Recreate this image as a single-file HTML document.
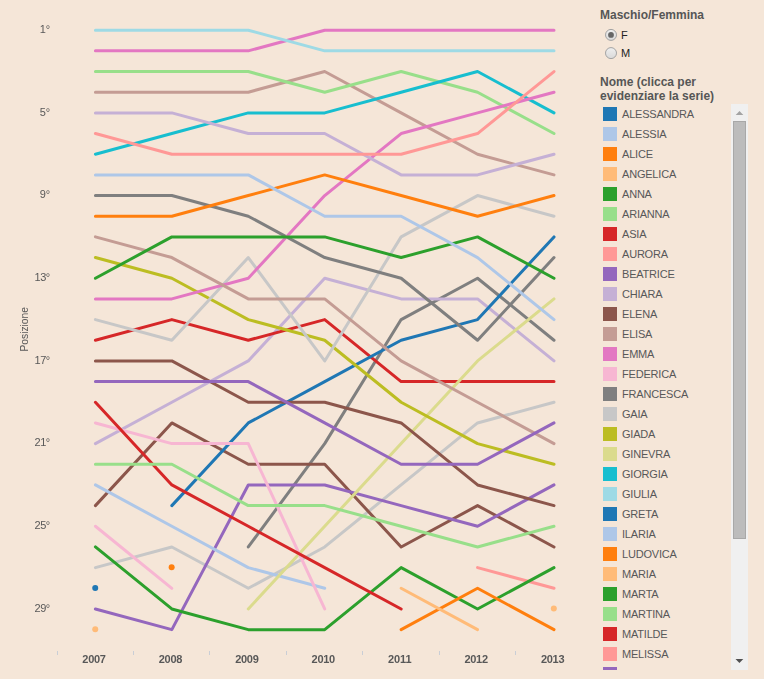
<!DOCTYPE html>
<html><head><meta charset="utf-8"><title>Nomi</title>
<style>
html,body{margin:0;padding:0;}
body{width:764px;height:679px;overflow:hidden;background:#f5e6d8;font-family:"Liberation Sans",sans-serif;position:relative;}
.h{position:absolute;left:600px;font-weight:bold;font-size:12px;line-height:14px;color:#565656;white-space:nowrap;}
.rl{position:absolute;left:621px;font-size:11px;line-height:12px;color:#222;}
#list{position:absolute;left:600px;top:104px;width:131px;height:566px;overflow:hidden;}
.it{position:absolute;left:0;height:20px;width:131px;}
.sw{position:absolute;left:3px;top:3px;width:14px;height:14px;}
.nm{position:absolute;left:22px;top:3px;font-size:11px;line-height:14px;color:#585858;white-space:nowrap;letter-spacing:-0.2px;}
#sb{position:absolute;left:731px;top:104px;width:17px;height:566px;background:#f0f0f0;}
#th{position:absolute;left:2px;top:17px;width:11px;height:416px;background:#bcbcbc;border:1px solid #a8a8a8;}
.ar{position:absolute;left:5px;width:0;height:0;border-left:3.5px solid transparent;border-right:3.5px solid transparent;}
</style></head><body>
<svg width="590" height="679" style="position:absolute;left:0;top:0;will-change:transform" font-family="Liberation Sans, sans-serif">
<g fill="none" stroke-width="3" stroke-linecap="round" stroke-linejoin="round">
<path d="M95.42,567.62L171.84,546.95L248.28,588.29L324.70,546.95L401.14,484.94L477.56,422.93L554.00,402.26" stroke="#c7c7c7"/>
<path d="M248.28,546.95L324.70,443.60L401.14,319.58L477.56,278.24L554.00,340.25" stroke="#7f7f7f"/>
<path d="M95.42,526.28L171.84,588.29" stroke="#f7b6d2"/>
<path d="M95.42,50.87L171.84,50.87L248.28,50.87L324.70,30.20L401.14,30.20L477.56,30.20L554.00,30.20" stroke="#e377c2"/>
<path d="M95.42,92.21L171.84,92.21L248.28,92.21L324.70,71.54L401.14,112.88L477.56,154.22L554.00,174.89" stroke="#c49c94"/>
<path d="M95.42,505.61L171.84,422.93L248.28,464.27L324.70,464.27L401.14,546.95L477.56,505.61L554.00,546.95" stroke="#8c564b"/>
<path d="M95.42,443.60L171.84,402.26L248.28,360.92L324.70,278.24L401.14,298.91L477.56,298.91L554.00,360.92" stroke="#c5b0d5"/>
<path d="M95.42,608.96L171.84,629.63L248.28,484.94L324.70,484.94L401.14,505.61L477.56,526.28L554.00,484.94" stroke="#9467bd"/>
<path d="M477.56,567.62L554.00,588.29" stroke="#ff9896"/>
<path d="M95.42,340.25L171.84,319.58L248.28,340.25L324.70,319.58L401.14,381.59L477.56,381.59L554.00,381.59" stroke="#d62728"/>
<path d="M95.42,71.54L171.84,71.54L248.28,71.54L324.70,92.21L401.14,71.54L477.56,92.21L554.00,133.55" stroke="#98df8a"/>
<path d="M95.42,546.95L171.84,608.96L248.28,629.63L324.70,629.63L401.14,567.62L477.56,608.96L554.00,567.62" stroke="#2ca02c"/>
<circle cx="553.80" cy="608.56" r="3" fill="#ffbb78" stroke="none"/>
<circle cx="171.65" cy="567.22" r="3" fill="#ff7f0e" stroke="none"/>
<path d="M401.14,629.63L477.56,588.29L554.00,629.63" stroke="#ff7f0e"/>
<path d="M95.42,484.94L171.84,526.28L248.28,567.62L324.70,588.29" stroke="#aec7e8"/>
<path d="M171.84,505.61L248.28,422.93L324.70,381.59L401.14,340.25L477.56,319.58L554.00,236.90" stroke="#1f77b4"/>
<path d="M95.42,30.20L171.84,30.20L248.28,30.20L324.70,50.87L401.14,50.87L477.56,50.87L554.00,50.87" stroke="#9edae5"/>
<path d="M95.42,154.22L171.84,133.55L248.28,112.88L324.70,112.88L401.14,92.21L477.56,71.54L554.00,112.88" stroke="#17becf"/>
<path d="M248.28,608.96L324.70,526.28L401.14,443.60L477.56,360.92L554.00,298.91" stroke="#dbdb8d"/>
<path d="M95.42,257.57L171.84,278.24L248.28,319.58L324.70,340.25L401.14,402.26L477.56,443.60L554.00,464.27" stroke="#bcbd22"/>
<path d="M95.42,319.58L171.84,340.25L248.28,257.57L324.70,360.92L401.14,236.90L477.56,195.56L554.00,216.23" stroke="#c7c7c7"/>
<path d="M95.42,195.56L171.84,195.56L248.28,216.23L324.70,257.57L401.14,278.24L477.56,340.25L554.00,257.57" stroke="#7f7f7f"/>
<path d="M95.42,422.93L171.84,443.60L248.28,443.60L324.70,608.96" stroke="#f7b6d2"/>
<path d="M95.42,298.91L171.84,298.91L248.28,278.24L324.70,195.56L401.14,133.55L477.56,112.88L554.00,92.21" stroke="#e377c2"/>
<path d="M95.42,236.90L171.84,257.57L248.28,298.91L324.70,298.91L401.14,360.92L477.56,402.26L554.00,443.60" stroke="#c49c94"/>
<path d="M95.42,360.92L171.84,360.92L248.28,402.26L324.70,402.26L401.14,422.93L477.56,484.94L554.00,505.61" stroke="#8c564b"/>
<path d="M95.42,112.88L171.84,112.88L248.28,133.55L324.70,133.55L401.14,174.89L477.56,174.89L554.00,154.22" stroke="#c5b0d5"/>
<path d="M95.42,381.59L171.84,381.59L248.28,381.59L324.70,422.93L401.14,464.27L477.56,464.27L554.00,422.93" stroke="#9467bd"/>
<path d="M95.42,133.55L171.84,154.22L248.28,154.22L324.70,154.22L401.14,154.22L477.56,133.55L554.00,71.54" stroke="#ff9896"/>
<path d="M95.42,402.26L171.84,484.94L248.28,526.28L324.70,567.62L401.14,608.96" stroke="#d62728"/>
<path d="M95.42,464.27L171.84,464.27L248.28,505.61L324.70,505.61L401.14,526.28L477.56,546.95L554.00,526.28" stroke="#98df8a"/>
<path d="M95.42,278.24L171.84,236.90L248.28,236.90L324.70,236.90L401.14,257.57L477.56,236.90L554.00,278.24" stroke="#2ca02c"/>
<circle cx="95.22" cy="629.23" r="3" fill="#ffbb78" stroke="none"/>
<path d="M401.14,588.29L477.56,629.63" stroke="#ffbb78"/>
<path d="M95.42,216.23L171.84,216.23L248.28,195.56L324.70,174.89L401.14,195.56L477.56,216.23L554.00,195.56" stroke="#ff7f0e"/>
<path d="M95.42,174.89L171.84,174.89L248.28,174.89L324.70,216.23L401.14,216.23L477.56,257.57L554.00,319.58" stroke="#aec7e8"/>
<circle cx="95.22" cy="587.89" r="3" fill="#1f77b4" stroke="none"/>
</g>
<g font-size="11" fill="#585858" text-anchor="end">
<text x="50.2" y="32.90">1°</text>
<text x="50.2" y="115.58">5°</text>
<text x="50.2" y="198.26">9°</text>
<text x="50.2" y="280.94" textLength="15.6" lengthAdjust="spacing">13°</text>
<text x="50.2" y="363.62" textLength="15.6" lengthAdjust="spacing">17°</text>
<text x="50.2" y="446.30" textLength="15.6" lengthAdjust="spacing">21°</text>
<text x="50.2" y="528.98" textLength="15.6" lengthAdjust="spacing">25°</text>
<text x="50.2" y="611.66" textLength="15.6" lengthAdjust="spacing">29°</text>
</g>
<text transform="translate(28,351.5) rotate(-90)" font-size="11" fill="#585858" textLength="44.5" lengthAdjust="spacingAndGlyphs">Posizione</text>
<g stroke="#c9ced6" stroke-width="1" shape-rendering="crispEdges">
<line x1="57.5" y1="651" x2="57.5" y2="655"/>
<line x1="133.5" y1="651" x2="133.5" y2="655"/>
<line x1="209.5" y1="651" x2="209.5" y2="655"/>
<line x1="286.5" y1="651" x2="286.5" y2="655"/>
<line x1="362.5" y1="651" x2="362.5" y2="655"/>
<line x1="439.5" y1="651" x2="439.5" y2="655"/>
<line x1="515.5" y1="651" x2="515.5" y2="655"/>
</g>
<g font-size="11" font-weight="bold" fill="#585858" text-anchor="middle">
<text x="94.12" y="663" textLength="23.6" lengthAdjust="spacing">2007</text>
<text x="170.54" y="663" textLength="23.6" lengthAdjust="spacing">2008</text>
<text x="246.97" y="663" textLength="23.6" lengthAdjust="spacing">2009</text>
<text x="323.40" y="663" textLength="23.6" lengthAdjust="spacing">2010</text>
<text x="399.84" y="663" textLength="23.6" lengthAdjust="spacing">2011</text>
<text x="476.26" y="663" textLength="23.6" lengthAdjust="spacing">2012</text>
<text x="552.70" y="663" textLength="23.6" lengthAdjust="spacing">2013</text>
</g>
</svg>
<div class="h" style="top:8px">Maschio/Femmina</div>
<svg width="40" height="40" style="position:absolute;left:600px;top:24px">
<defs><linearGradient id="rg" x1="0" y1="0" x2="0" y2="1"><stop offset="0" stop-color="#efefef"/><stop offset="1" stop-color="#d9d9d9"/></linearGradient></defs>
<circle cx="11" cy="10.9" r="5.5" fill="url(#rg)" stroke="#a3a3a3" stroke-width="1"/>
<circle cx="11" cy="10.9" r="2.9" fill="#666"/>
<circle cx="11" cy="29.1" r="5.5" fill="url(#rg)" stroke="#a3a3a3" stroke-width="1"/>
</svg>
<div class="rl" style="top:29px">F</div>
<div class="rl" style="top:47px">M</div>
<div class="h" style="top:75px">Nome (clicca per<br>evidenziare la serie)</div>
<div id="list">
<div class="it" style="top:0px"><span class="sw" style="background:#1f77b4"></span><span class="nm">ALESSANDRA</span></div>
<div class="it" style="top:20px"><span class="sw" style="background:#aec7e8"></span><span class="nm">ALESSIA</span></div>
<div class="it" style="top:40px"><span class="sw" style="background:#ff7f0e"></span><span class="nm">ALICE</span></div>
<div class="it" style="top:60px"><span class="sw" style="background:#ffbb78"></span><span class="nm">ANGELICA</span></div>
<div class="it" style="top:80px"><span class="sw" style="background:#2ca02c"></span><span class="nm">ANNA</span></div>
<div class="it" style="top:100px"><span class="sw" style="background:#98df8a"></span><span class="nm">ARIANNA</span></div>
<div class="it" style="top:120px"><span class="sw" style="background:#d62728"></span><span class="nm">ASIA</span></div>
<div class="it" style="top:140px"><span class="sw" style="background:#ff9896"></span><span class="nm">AURORA</span></div>
<div class="it" style="top:160px"><span class="sw" style="background:#9467bd"></span><span class="nm">BEATRICE</span></div>
<div class="it" style="top:180px"><span class="sw" style="background:#c5b0d5"></span><span class="nm">CHIARA</span></div>
<div class="it" style="top:200px"><span class="sw" style="background:#8c564b"></span><span class="nm">ELENA</span></div>
<div class="it" style="top:220px"><span class="sw" style="background:#c49c94"></span><span class="nm">ELISA</span></div>
<div class="it" style="top:240px"><span class="sw" style="background:#e377c2"></span><span class="nm">EMMA</span></div>
<div class="it" style="top:260px"><span class="sw" style="background:#f7b6d2"></span><span class="nm">FEDERICA</span></div>
<div class="it" style="top:280px"><span class="sw" style="background:#7f7f7f"></span><span class="nm">FRANCESCA</span></div>
<div class="it" style="top:300px"><span class="sw" style="background:#c7c7c7"></span><span class="nm">GAIA</span></div>
<div class="it" style="top:320px"><span class="sw" style="background:#bcbd22"></span><span class="nm">GIADA</span></div>
<div class="it" style="top:340px"><span class="sw" style="background:#dbdb8d"></span><span class="nm">GINEVRA</span></div>
<div class="it" style="top:360px"><span class="sw" style="background:#17becf"></span><span class="nm">GIORGIA</span></div>
<div class="it" style="top:380px"><span class="sw" style="background:#9edae5"></span><span class="nm">GIULIA</span></div>
<div class="it" style="top:400px"><span class="sw" style="background:#1f77b4"></span><span class="nm">GRETA</span></div>
<div class="it" style="top:420px"><span class="sw" style="background:#aec7e8"></span><span class="nm">ILARIA</span></div>
<div class="it" style="top:440px"><span class="sw" style="background:#ff7f0e"></span><span class="nm">LUDOVICA</span></div>
<div class="it" style="top:460px"><span class="sw" style="background:#ffbb78"></span><span class="nm">MARIA</span></div>
<div class="it" style="top:480px"><span class="sw" style="background:#2ca02c"></span><span class="nm">MARTA</span></div>
<div class="it" style="top:500px"><span class="sw" style="background:#98df8a"></span><span class="nm">MARTINA</span></div>
<div class="it" style="top:520px"><span class="sw" style="background:#d62728"></span><span class="nm">MATILDE</span></div>
<div class="it" style="top:540px"><span class="sw" style="background:#ff9896"></span><span class="nm">MELISSA</span></div>
<div class="it" style="top:560px"><span class="sw" style="background:#9467bd"></span><span class="nm">NICOLE</span></div>
<div class="it" style="top:580px"><span class="sw" style="background:#c5b0d5"></span><span class="nm">NOEMI</span></div>
<div class="it" style="top:600px"><span class="sw" style="background:#8c564b"></span><span class="nm">REBECCA</span></div>
<div class="it" style="top:620px"><span class="sw" style="background:#c49c94"></span><span class="nm">SARA</span></div>
<div class="it" style="top:640px"><span class="sw" style="background:#e377c2"></span><span class="nm">SOFIA</span></div>
<div class="it" style="top:660px"><span class="sw" style="background:#f7b6d2"></span><span class="nm">VALENTINA</span></div>
<div class="it" style="top:680px"><span class="sw" style="background:#7f7f7f"></span><span class="nm">VIOLA</span></div>
<div class="it" style="top:700px"><span class="sw" style="background:#c7c7c7"></span><span class="nm">VITTORIA</span></div>
</div>
<div id="sb"><div id="th"></div>
<svg width="17" height="566" style="position:absolute;left:0;top:0">
<polygon points="4.7,11 12.3,11 8.5,6.9" fill="#a3a3a3"/>
<polygon points="4.5,554.9 12.3,554.9 8.4,559" fill="#505050"/>
</svg></div>
</body></html>
